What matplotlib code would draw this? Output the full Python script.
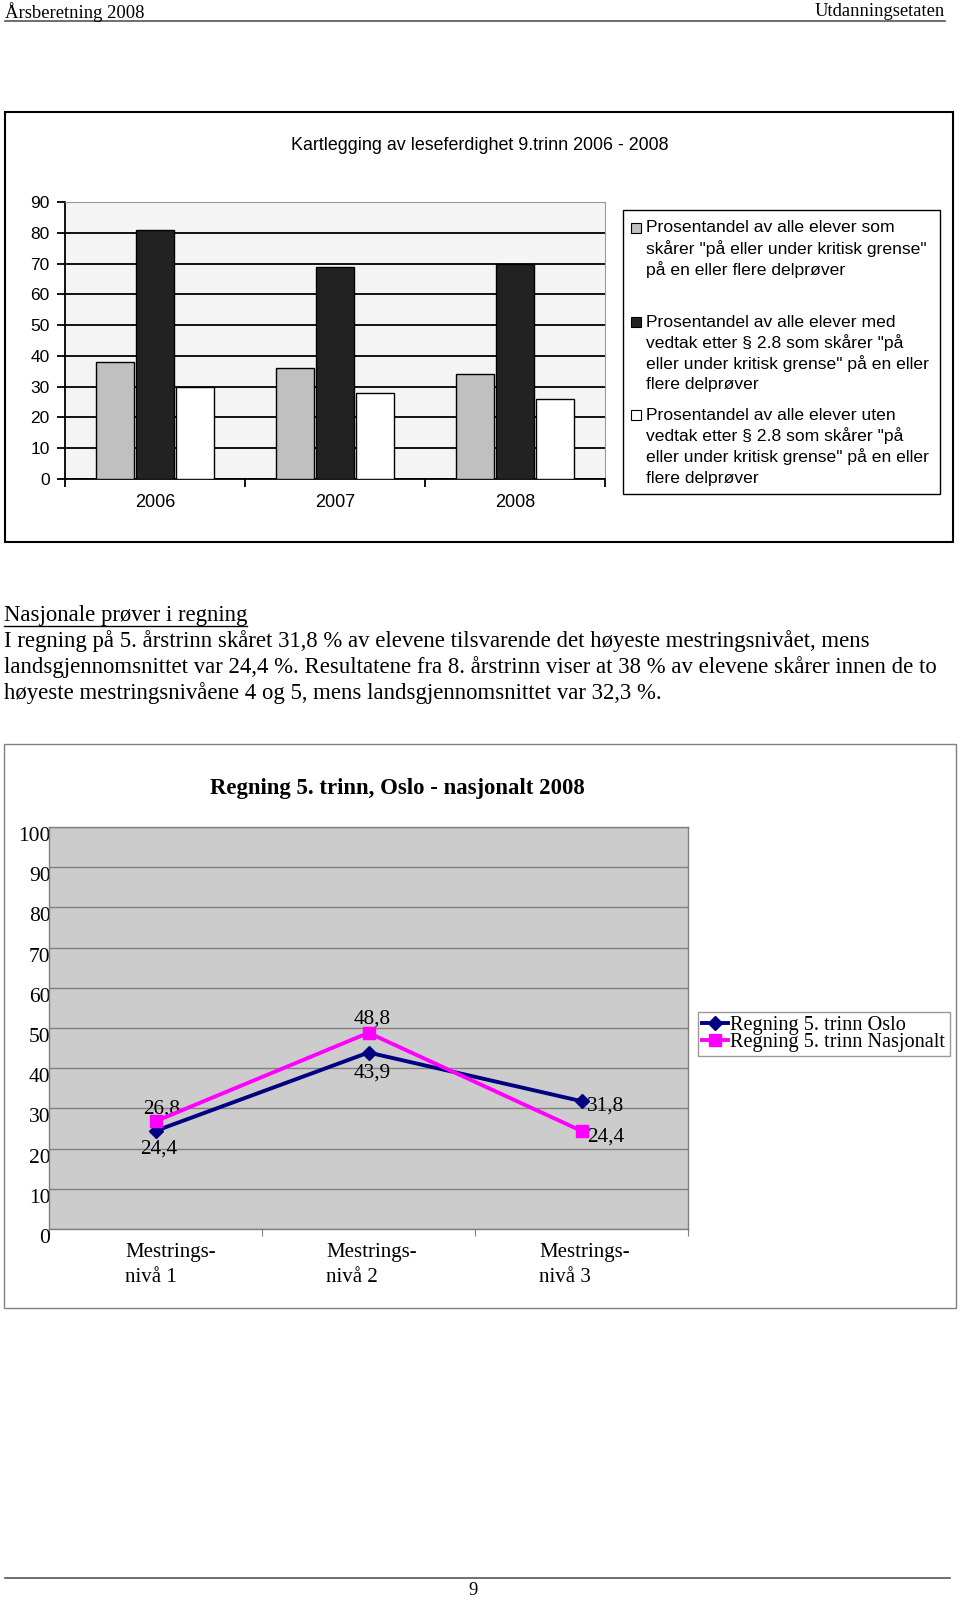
import matplotlib
matplotlib.use("Agg")
import matplotlib.pyplot as plt
import matplotlib.transforms as mtransforms
import numpy as np
from matplotlib.patches import Rectangle
from matplotlib.lines import Line2D

# =============================
# Data: top chart (lesing 9. trinn)
# =============================
years = ["2006", "2007", "2008"]
alle_elever = [38, 36, 34]
med_vedtak = [81, 69, 70]
uten_vedtak = [30, 28, 26]
legend_top = [
    ["Prosentandel av alle elever som",
     "skårer \"på eller under kritisk grense\"",
     "på en eller flere delprøver"],
    ["Prosentandel av alle elever med",
     "vedtak etter § 2.8 som skårer \"på",
     "eller under kritisk grense\" på en eller",
     "flere delprøver"],
    ["Prosentandel av alle elever uten",
     "vedtak etter § 2.8 som skårer \"på",
     "eller under kritisk grense\" på en eller",
     "flere delprøver"],
]

# =============================
# Data: bottom chart (regning 5. trinn)
# =============================
nivaa = ["Mestrings-\nnivå 1", "Mestrings-\nnivå 2", "Mestrings-\nnivå 3"]
oslo = [24.4, 43.9, 31.8]
nasjonalt = [26.8, 48.8, 24.4]

paragraph = [
    "I regning på 5. årstrinn skåret 31,8 % av elevene tilsvarende det høyeste mestringsnivået, mens",
    "landsgjennomsnittet var 24,4 %. Resultatene fra 8. årstrinn viser at 38 % av elevene skårer innen de to",
    "høyeste mestringsnivåene 4 og 5, mens landsgjennomsnittet var 32,3 %.",
]

W, H = 960, 1601
SERIF = "Liberation Serif"
SANS = "Liberation Sans"

fig = plt.figure(figsize=(W / 100, H / 100), dpi=100)


def fx(x):
    return x / W


def fy(y):
    return 1 - y / H


def box(x0, y0, x1, y1):
    return [x0 / W, 1 - y1 / H, (x1 - x0) / W, (y1 - y0) / H]


def frame(x0, y0, x1, y1, **kw):
    fig.add_artist(Rectangle((fx(x0), fy(y1)), (x1 - x0) / W, (y1 - y0) / H,
                             transform=fig.transFigure, fill=False, **kw))


# =============================
# Page header / footer
# =============================
fig.text(fx(5), fy(12), "Årsberetning 2008", family=SERIF, size=13.4, va="center")
fig.text(fx(945), fy(12), "Utdanningsetaten", family=SERIF, size=13.4, va="center", ha="right")
fig.add_artist(Line2D([fx(5), fx(945)], [fy(21), fy(21)], color="#555555", lw=1.2))
fig.add_artist(Line2D([fx(5), fx(950)], [fy(1578), fy(1578)], color="#555555", lw=1.2))
fig.text(fx(473), fy(1590), "9", family=SERIF, size=13.4, ha="center", va="center")

# =============================
# Top chart
# =============================
frame(5, 112, 953, 542, ec="black", lw=1.5)
fig.text(fx(480), fy(145), "Kartlegging av leseferdighet 9.trinn 2006 - 2008",
         family=SANS, size=12.9, ha="center", va="center")

ax1 = fig.add_axes(box(65, 202, 605, 479))
x = np.arange(len(years))
bw, off = 0.212, 0.223
colors_top = ["#c0c0c0", "#222222", "#ffffff"]
for i, vals in enumerate([alle_elever, med_vedtak, uten_vedtak]):
    ax1.bar(x + (i - 1) * off, vals, bw, color=colors_top[i], ec="black", lw=1, zorder=3)
ax1.set_xlim(-0.5, 2.5)
ax1.set_ylim(0, 90)
ax1.set_facecolor("#f4f4f4")
ax1.set_yticks(range(0, 91, 10))
ax1.yaxis.grid(True, color="black", lw=1.3)
ax1.set_axisbelow(True)
ax1.set_xticks([-0.5, 0.5, 1.5, 2.5])
ax1.set_xticklabels([])
ax1.set_xticks(x, minor=True)
ax1.set_xticklabels(years, minor=True)
ax1.tick_params(axis="x", which="major", direction="out", length=6, width=1.3)
ax1.tick_params(axis="x", which="minor", length=0, pad=11, labelsize=13)
ax1.tick_params(axis="y", direction="out", length=6, width=1.3, pad=5, labelsize=12.5)
for lab in ax1.get_xticklabels(minor=True) + ax1.get_yticklabels():
    lab.set_family(SANS)
for s in ["left", "bottom"]:
    ax1.spines[s].set_color("black")
    ax1.spines[s].set_linewidth(1.3)
for s in ["top", "right"]:
    ax1.spines[s].set_color("#999999")
    ax1.spines[s].set_linewidth(0.8)

# legend (top chart)
frame(623, 210, 940, 494, ec="black", lw=1)
starts = [228, 322, 415]
for i, lines in enumerate(legend_top):
    y0 = starts[i]
    fig.add_artist(Rectangle((fx(631), fy(y0 + 5)), 10 / W, 10 / H, transform=fig.transFigure,
                             fc=colors_top[i], ec="black", lw=0.8))
    for j, line in enumerate(lines):
        fig.text(fx(646), fy(y0 + j * 21), line, family=SANS, size=12.6, va="center")

# =============================
# Paragraph
# =============================
head = fig.text(fx(4), fy(615), "Nasjonale prøver i regning", family=SERIF, size=16.4, va="center")
for k, line in enumerate(paragraph):
    fig.text(fx(4), fy(641.5 + k * 26), line, family=SERIF, size=16.4, va="center")
renderer = fig.canvas.get_renderer()
bb = head.get_window_extent(renderer)
fig.add_artist(Line2D([bb.x0 / W, bb.x1 / W], [fy(626), fy(626)], color="black", lw=1))

# =============================
# Bottom chart
# =============================
frame(4, 743.5, 956, 1308, ec="#808080", lw=1)
fig.text(fx(397), fy(788), "Regning 5. trinn, Oslo - nasjonalt 2008", family=SERIF,
         weight="bold", size=16.4, ha="center", va="center")

ax2 = fig.add_axes(box(49, 827, 688, 1229))
xn = np.arange(len(nivaa))
l1, = ax2.plot(xn, oslo, color="#000080", lw=2.8, marker="D", ms=7, zorder=3,
               label="Regning 5. trinn Oslo")
l2, = ax2.plot(xn, nasjonalt, color="#ff00ff", lw=2.8, marker="s", ms=8, zorder=4,
               label="Regning 5. trinn Nasjonalt")
ax2.set_xlim(-0.5, 2.5)
ax2.set_ylim(0, 100)
ax2.set_facecolor("#cccccc")
ax2.set_yticks(range(0, 101, 10))
ax2.yaxis.grid(True, color="#808080", lw=1)
ax2.set_axisbelow(True)
ax2.set_xticks([-0.5, 0.5, 1.5, 2.5])
ax2.set_xticklabels([])
ax2.set_xticks(xn, minor=True)
ax2.set_xticklabels(nivaa, minor=True)
ax2.tick_params(axis="x", which="major", direction="out", length=5, color="#808080")
ax2.tick_params(axis="x", which="minor", length=0, pad=10, labelsize=15)
ax2.tick_params(axis="y", length=0, pad=-1, labelsize=15.5)
# first category label sits a little right of centre in the original
shifts = [15, 3, 3]
for k, lab in enumerate(ax2.get_xticklabels(minor=True)):
    lab.set_family(SERIF)
    lab.set_multialignment("left")
    lab.set_linespacing(1.45)
    lab.set_transform(lab.get_transform() + mtransforms.Affine2D().translate(shifts[k], 0))
for lab in ax2.get_yticklabels():
    lab.set_family(SERIF)
    lab.set_verticalalignment("top")

for s in ax2.spines.values():
    s.set_color("#808080")
    s.set_linewidth(1)

label_offsets_oslo = [(3, -18), (4, -21), (24, -5)]
label_offsets_nasj = [(6, 12), (4, 14), (24, -6)]
for xi, v, o in zip(xn, oslo, label_offsets_oslo):
    ax2.annotate(f"{v:.1f}".replace(".", ","), (xi, v), xytext=o, textcoords="offset pixels",
                 ha="center", va="center", family=SERIF, size=15.3)
for xi, v, o in zip(xn, nasjonalt, label_offsets_nasj):
    ax2.annotate(f"{v:.1f}".replace(".", ","), (xi, v), xytext=o, textcoords="offset pixels",
                 ha="center", va="center", family=SERIF, size=15.3)

leg = ax2.legend(handles=[l1, l2], loc="upper left", bbox_to_anchor=(fx(698), fy(1012)),
                 bbox_transform=fig.transFigure, prop={"family": SERIF, "size": 14.6},
                 frameon=True, fancybox=False, edgecolor="#808080", labelspacing=-0.12,
                 handlelength=1.3, handletextpad=0.1, borderpad=0.2, borderaxespad=0)
leg.get_frame().set_linewidth(1)

fig.savefig("out.png", dpi=100, facecolor="white")
